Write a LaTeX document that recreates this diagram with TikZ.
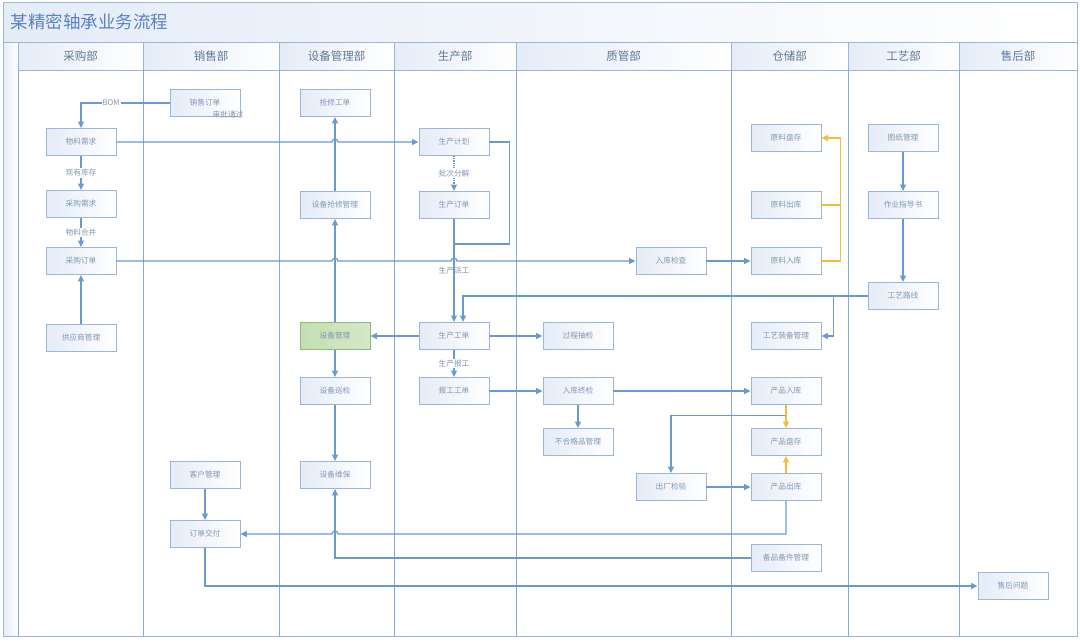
\documentclass[tikz,border=0pt]{standalone}
\usepackage{fontspec}
\newfontfamily\cjk{Noto Sans CJK SC}
\usepackage{xcolor}
\usetikzlibrary{arrows.meta,calc}
\definecolor{flowblue}{HTML}{6A9AD0}
\definecolor{laneblue}{HTML}{86A8D2}
\definecolor{boxline}{HTML}{9BB6D8}
\definecolor{boxfill}{HTML}{E4ECF7}
\definecolor{boxtext}{HTML}{8297B4}
\definecolor{headtext}{HTML}{5E789A}
\definecolor{titleblue}{HTML}{5A82C2}
\definecolor{flowyellow}{HTML}{F4BE3A}
\definecolor{greenfill}{HTML}{C4DEB0}
\definecolor{greenline}{HTML}{93B97A}

\begin{document}
\begin{tikzpicture}[x=1pt,y=-1pt,
    box/.style={draw=boxline, line width=0.9pt, left color=boxfill, right color=white,
        minimum width=70pt, minimum height=27pt, inner sep=0pt, text=boxtext,
        font=\cjk\fontsize{7.7}{9}\selectfont},
    greenbox/.style={box, draw=greenline, left color=greenfill, right color=greenfill!70!white},
    flow/.style={draw=flowblue, line width=1.2pt, -{Triangle[length=6.5pt,width=6pt]}},
    link/.style={draw=flowblue, line width=1.2pt},
    yflow/.style={draw=flowyellow, line width=1.2pt, -{Triangle[length=6.5pt,width=6pt]}},
    ylink/.style={draw=flowyellow, line width=1.2pt},
    lbl/.style={fill=white, inner sep=1pt, text=boxtext, font=\cjk\fontsize{7.7}{9}\selectfont},
    note/.style={inner sep=0pt, text=boxtext, font=\cjk\fontsize{7.7}{9}\selectfont},
    headcell/.style={draw=boxline, line width=0.9pt, left color=boxfill, right color=white},
    headtext/.style={text=headtext, font=\cjk\fontsize{11.5}{13}\selectfont},
    laneline/.style={draw=laneblue, line width=1pt}]
    \useasboundingbox (0,0) rectangle (1080,641);

    %% 标题栏与泳道
    \shade[left color=boxfill, right color=white] (3,2) rectangle (1077,42);
    \shade[left color=boxfill, right color=white] (3,42) rectangle (18,636);
    \node[anchor=west, text=titleblue, font=\cjk\fontsize{17.5}{20}\selectfont] (title) at (7,22) {某精密轴承业务流程};
    \foreach \xa/\xb/\dept [count=\i] in {18/143/采购部,143/279/销售部,279/394/设备管理部,394/516/生产部,
        516/731/质管部,731/848/仓储部,848/959/工艺部,959/1077/售后部}{
        \draw[headcell] (\xa,42) rectangle (\xb,70);
        \node[headtext] (dept\i) at ({(\xa+\xb)/2},56) {\dept};
        \draw[laneline] (\xa,70) -- (\xa,636);
    }
    \draw[boxline, line width=1pt] (3,2) rectangle (1077,636);
    \draw[boxline, line width=1pt] (3,42) -- (1077,42);

    %% 各部门节点
    \node[box] (xsdd) at (205,103) {销售订单};
    \node[box] (qxgd) at (335,103) {抢修工单};
    \node[box] (wlxq) at (81,142) {物料需求};
    \node[box] (scjh) at (454,142) {生产计划};
    \node[box] (ylpc) at (786,138) {原料盘存};
    \node[box] (tzgl) at (903,138) {图纸管理};
    \node[box] (cgxq) at (81,204) {采购需求};
    \node[box] (sbqx) at (335,205) {设备抢修管理};
    \node[box] (scdd) at (454,205) {生产订单};
    \node[box] (ylck) at (786,205) {原料出库};
    \node[box] (zyzd) at (903,205) {作业指导书};
    \node[box] (cgdd) at (81,261) {采购订单};
    \node[box] (rkjc) at (671,261) {入库检查};
    \node[box] (ylrk) at (786,261) {原料入库};
    \node[box] (gylx) at (903,296) {工艺路线};
    \node[box] (gysgl) at (81,338) {供应商管理};
    \node[greenbox] (sbgl) at (335,336) {设备管理};
    \node[box] (scgd) at (454,336) {生产工单};
    \node[box] (gccj) at (578,336) {过程抽检};
    \node[box] (gyzb) at (786,336) {工艺装备管理};
    \node[box] (sbxj) at (335,391) {设备巡检};
    \node[box] (bggd) at (454,391) {报工工单};
    \node[box] (rkzj) at (578,391) {入库终检};
    \node[box] (cprk) at (786,391) {产品入库};
    \node[box] (bhgp) at (578,442) {不合格品管理};
    \node[box] (cppc) at (786,442) {产品盘存};
    \node[box] (khgl) at (205,475) {客户管理};
    \node[box] (sbwb) at (335,475) {设备维保};
    \node[box] (ccjy) at (671,487) {出厂检验};
    \node[box] (cpck) at (786,487) {产品出库};
    \node[box] (ddjf) at (205,534) {订单交付};
    \node[box] (bpbj) at (786,558) {备品备件管理};
    \node[box] (shwt) at (1013,586) {售后问题};

    %% 采购与销售
    \draw[flow] (xsdd.west) -| node[lbl, pos=0.33] {BOM} (wlxq.north);
    \node[note] (spth) at (228,115) {审批通过};
    \draw[flow] (wlxq) -- node[lbl] {现有库存} (cgxq);
    \draw[flow] (cgxq) -- node[lbl] {物料合并} (cgdd);
    \draw[flow] (gysgl) -- (cgdd);
    \draw[flow] (wlxq.east) -- ($(wlxq.east -| qxgd)+(-3pt,0)$)
        arc[start angle=180, end angle=0, radius=3pt] -- (scjh.west);
    \draw[flow] (cgdd.east) -- ($(cgdd.east -| sbgl)+(-3pt,0)$)
        arc[start angle=180, end angle=0, radius=3pt] -- ($(cgdd.east -| scgd)+(-3pt,0)$)
        arc[start angle=180, end angle=0, radius=3pt] -- (rkjc.west);

    %% 设备管理
    \draw[flow] (sbqx) -- (qxgd);
    \draw[flow] (sbgl) -- (sbqx);
    \draw[flow] (sbgl) -- (sbxj);
    \draw[flow] (sbxj) -- (sbwb);

    %% 生产
    \coordinate (scjoin) at (454,244);
    \draw[flow, densely dotted] (scjh) -- node[lbl] {批次分解} (scdd);
    \draw[link] (scjh.east) -- ++(20,0) |- (scjoin);
    \draw[flow] (scdd) -- node[note] {生产派工} (scgd);
    \draw[flow] (scgd) -- (sbgl);
    \draw[flow] (scgd) -- (gccj);
    \draw[flow] (scgd) -- node[lbl] {生产报工} (bggd);
    \draw[flow] (bggd) -- (rkzj);

    %% 工艺
    \draw[flow] (tzgl) -- (zyzd);
    \draw[flow] (zyzd) -- (gylx);
    \draw[flow] (gylx.west) -| ([xshift=9pt]scgd.north);
    \draw[flow] (gylx.west) ++(-34,0) |- (gyzb.east);

    %% 质检与仓储
    \draw[flow] (rkjc) -- (ylrk);
    \draw[ylink] (ylck.east) -- ++(19,0);
    \draw[yflow] (ylrk.east) -- ++(19,0) |- (ylpc.east);
    \draw[flow] (rkzj) -- (bhgp);
    \draw[flow] (rkzj) -- (cprk);
    \draw[flow] ($(cprk.south)!0.44!(cppc.north)$) -| (ccjy.north);
    \draw[yflow] (cprk) -- (cppc);
    \draw[yflow] (cpck) -- (cppc);
    \draw[flow] (ccjy) -- (cpck);

    %% 交付与售后
    \draw[flow] (cpck.south) -- (cpck.south |- ddjf.east) -- ($(ddjf.east -| sbwb)+(3pt,0)$)
        arc[start angle=0, end angle=180, radius=3pt] -- (ddjf.east);
    \draw[flow] (bpbj.west) -| (sbwb.south);
    \draw[flow] (khgl) -- (ddjf);
    \draw[flow] (ddjf.south) |- (shwt.west);
\end{tikzpicture}
\end{document}
